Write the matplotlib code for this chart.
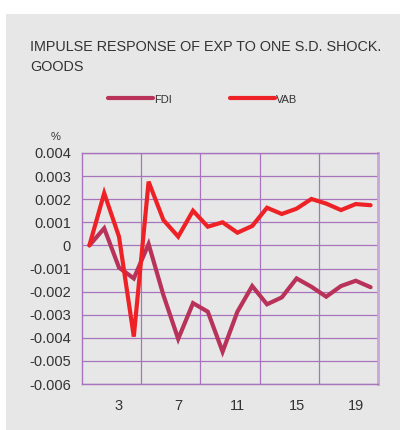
import matplotlib
matplotlib.use("Agg")
import matplotlib.pyplot as plt
from matplotlib.patches import Rectangle

plt.rcParams["font.family"] = ["Liberation Sans", "DejaVu Sans"]

# =============================================================================
# Data
# =============================================================================

periods = list(range(1, 21))
fdi = [0.0, 0.00074, -0.00096, -0.00143, 0.00006, -0.00215, -0.00405, -0.0025,
       -0.00287, -0.0046, -0.00287, -0.00176, -0.00255, -0.00225, -0.00143,
       -0.00179, -0.00222, -0.00176, -0.00153, -0.00181]
vab = [0.0, 0.00226, 0.00038, -0.00395, 0.00276, 0.0011, 0.00038, 0.0015,
       0.00081, 0.001, 0.00055, 0.00084, 0.00163, 0.00136, 0.00159,
       0.00201, 0.00181, 0.00153, 0.00179, 0.00174]
yticks = [0.004, 0.003, 0.002, 0.001, 0, -0.001, -0.002, -0.003, -0.004, -0.005, -0.006]
ytick_labels = ["0.004", "0.003", "0.002", "0.001", "0", "-0.001", "-0.002",
                "-0.003", "-0.004", "-0.005", "-0.006"]
xlabel_periods = [3, 7, 11, 15, 19]
title_lines = ["IMPULSE RESPONSE OF EXP TO ONE S.D. SHOCK.", "GOODS"]

FDI_COLOR = "#b8325a"
VAB_COLOR = "#ee2226"
GRID = "#a774bd"
BG = "#e6e7e6"
TXT = "#333333"

# =============================================================================
# Figure
# =============================================================================

fig = plt.figure(figsize=(4.0, 4.3), dpi=100)
fig.patch.set_facecolor("white")
fig.patches.append(Rectangle((6 / 400, 0), 394 / 400, 1 - 14 / 430,
                             transform=fig.transFigure, facecolor=BG,
                             edgecolor="none", zorder=0))

ax = fig.add_axes([82 / 400, 1 - 384 / 430, 296 / 400, 231 / 430])
ax.set_zorder(2)
ax.set_facecolor(BG)

# category axis: period i sits at the centre of slot i
xs = [p - 0.5 for p in periods]
ax.plot(xs, fdi, color=FDI_COLOR, linewidth=3.0, solid_capstyle="round",
        solid_joinstyle="miter", zorder=3)
ax.plot(xs, vab, color=VAB_COLOR, linewidth=3.0, solid_capstyle="round",
        solid_joinstyle="miter", zorder=4)

ax.set_xlim(0, 20)
ax.set_ylim(-0.006, 0.004)

for y in yticks:
    ax.axhline(y, color=GRID, linewidth=0.9, zorder=1)
for x in range(4, 20, 4):
    ax.axvline(x, color=GRID, linewidth=0.9, zorder=1)

for side in ["top", "bottom", "left"]:
    ax.spines[side].set_color(GRID)
    ax.spines[side].set_linewidth(1.0)
ax.spines["right"].set_color("#c8a6d6")
ax.spines["right"].set_linewidth(2.0)

ax.set_yticks(yticks)
ax.set_yticklabels(ytick_labels, fontsize=10.5, color=TXT)
ax.set_xticks([p - 0.5 for p in xlabel_periods])
ax.set_xticklabels([str(p) for p in xlabel_periods], fontsize=10.5, color=TXT)
ax.tick_params(axis="both", length=0)
ax.tick_params(axis="y", pad=8)
ax.tick_params(axis="x", pad=10.5)

# texts
for i, line in enumerate(title_lines):
    fig.text(30 / 400, 1 - (47 + 20 * i) / 430, line, fontsize=10.4, color=TXT,
             va="center", ha="left")
fig.text(56 / 400, 1 - 137 / 430, "%", fontsize=8, color=TXT,
         ha="center", va="center")

# legend drawn by hand to match the reference spacing
ly = 1 - 98 / 430
for x0, x1, col, name in [(108, 153, FDI_COLOR, "FDI"), (230, 275, VAB_COLOR, "VAB")]:
    fig.add_artist(plt.Line2D([x0 / 400, x1 / 400], [ly, ly], color=col,
                              linewidth=3.0, solid_capstyle="round",
                              transform=fig.transFigure))
    fig.text((x1 + 1) / 400, 1 - 100 / 430, name, fontsize=8, color=TXT,
             ha="left", va="center")

fig.savefig("out.png", dpi=100, facecolor=fig.get_facecolor())
